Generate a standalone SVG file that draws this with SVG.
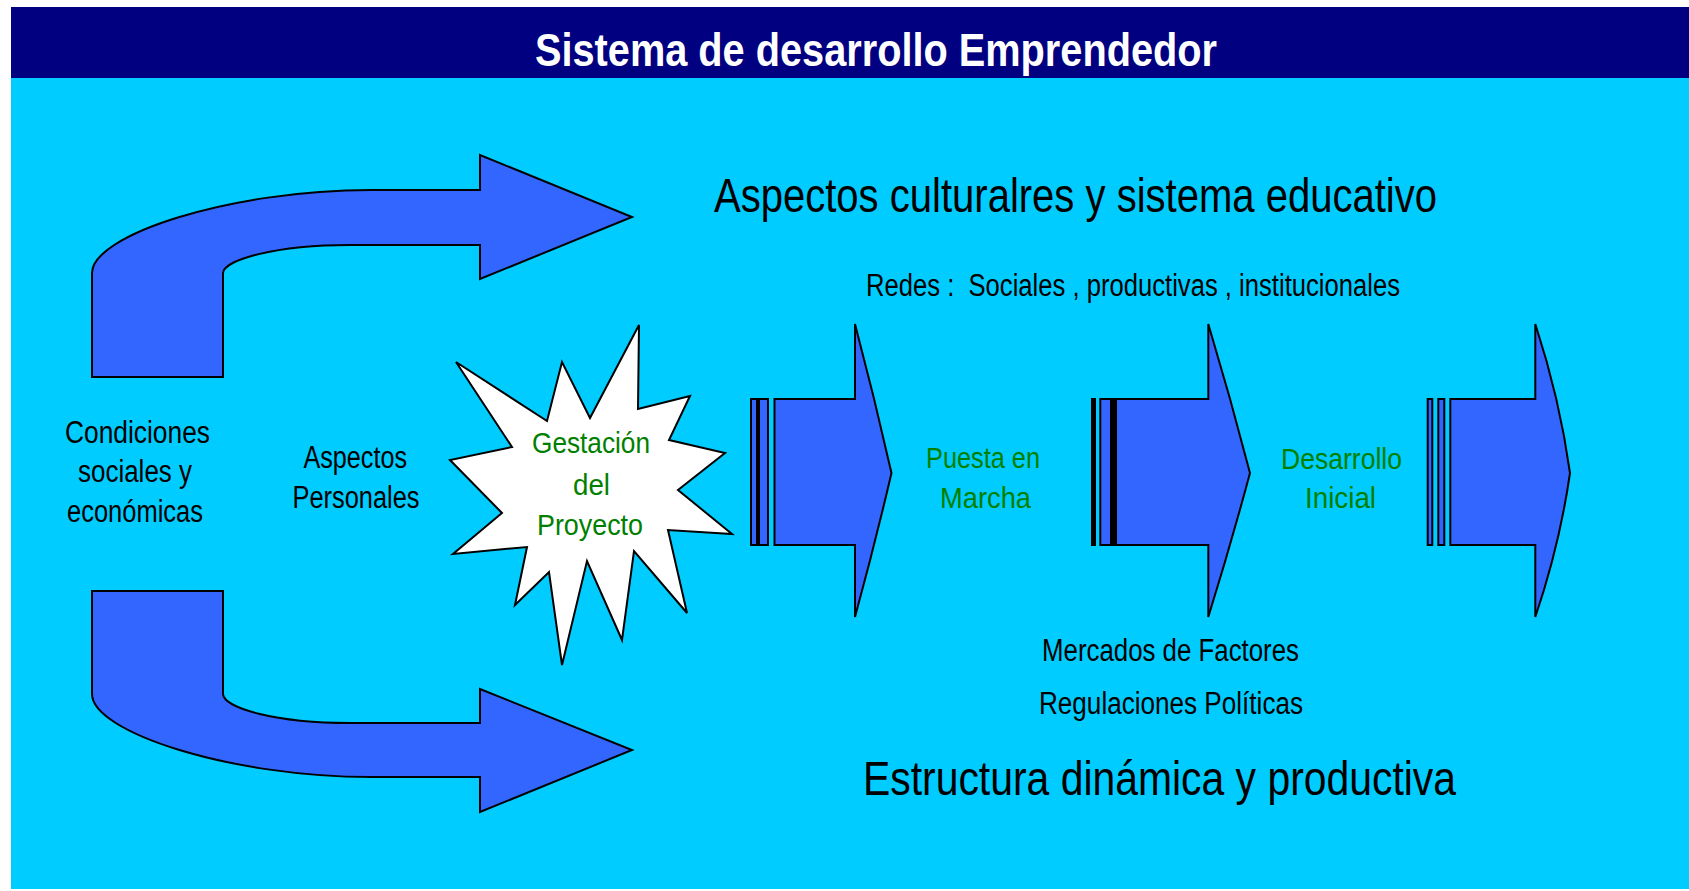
<svg xmlns="http://www.w3.org/2000/svg" width="1689" height="891" viewBox="0 0 1689 891">
<style>
.arrow{fill:#3366FF;stroke:#000;stroke-width:2;stroke-linejoin:miter}
.blk{fill:#000}
.t{font-family:"Liberation Sans",Arial,Helvetica,sans-serif;fill:#000}
.s{font-size:31px}
.L{font-size:48px}
.g{font-family:"Liberation Sans",Arial,Helvetica,sans-serif;fill:#008000;font-size:30px}
.title{font-family:"Liberation Sans",Arial,Helvetica,sans-serif;fill:#FFFFFF;font-size:46px;font-weight:bold}
</style>
<rect x="0" y="0" width="1689" height="891" fill="#FFFFFF"/>
<rect x="11" y="78" width="1678" height="811" fill="#00CCFF"/>
<g id="header">
<rect x="11" y="7" width="1678" height="71" fill="#000080"/>
<text class="title" x="535" y="66" textLength="682" lengthAdjust="spacingAndGlyphs">Sistema de desarrollo Emprendedor</text>
</g>
<g id="connectors">
<g id="bent-arrow-top">
<path class="arrow" d="M92,377 L92,273 C92,235 230,190 371,190 L480,190 L480,155 L632,217 L480,279 L480,245 L350,245 C275,245 224,260 223,273 L223,377 Z"/>
</g>
<g id="bent-arrow-bottom">
<path class="arrow" d="M92,591 L92,694 C92,732 230,777 371,777 L480,777 L480,812 L632,750 L480,689 L480,723 L350,723 C275,723 224,708 223,694 L223,591 Z"/>
</g>
<g id="stage-arrow-1">
<rect class="arrow" x="751" y="399" width="6" height="146"/>
<rect class="arrow" x="759" y="399" width="9" height="146"/>
<path class="arrow" d="M774.5,399 H855 V324 Q874.7,398.5 891.5,473 Q874.7,545 855,617 V545 H774.5 Z"/>
</g>
<g id="stage-arrow-2">
<rect class="blk" x="1091" y="398" width="5" height="148"/>
<rect class="arrow" x="1100.3" y="399" width="11" height="146"/>
<path class="arrow" d="M1112,399 H1208.3 V324 Q1230.7,398.5 1250,473 Q1230.7,545 1208.3,617 V545 H1112 Z"/>
<rect class="blk" x="1110" y="398" width="7" height="148"/>
</g>
<g id="stage-arrow-3">
<rect class="arrow" x="1427.7" y="399" width="4.6" height="146"/>
<rect class="arrow" x="1438.3" y="399" width="6" height="146"/>
<path class="arrow" d="M1450.3,399 H1535.3 V324 Q1559.7,398.5 1570,473 Q1559.7,545 1535.3,617 V545 H1450.3 Z"/>
</g>
</g>
<g id="star-gestacion">
<polygon fill="#FFFFFF" stroke="#000" stroke-width="2" points="639,325 638,409 690,396 669,440 725,453 678,490 732,534 668,530 687,613 634,551 622,640 587,561 562,665 549,572 515,605 527,547 453,554 502,513 450,460 512,447 456,362 547,421 562,362 590,418"/>
<text class="g" x="532" y="453" textLength="118" lengthAdjust="spacingAndGlyphs">Gestación</text>
<text class="g" x="573" y="495" textLength="37" lengthAdjust="spacingAndGlyphs">del</text>
<text class="g" x="537" y="535" textLength="106" lengthAdjust="spacingAndGlyphs">Proyecto</text>
</g>
<g id="label-condiciones">
<text class="t s" x="65" y="443" textLength="145" lengthAdjust="spacingAndGlyphs">Condiciones</text>
<text class="t s" x="78" y="482" textLength="114" lengthAdjust="spacingAndGlyphs">sociales y</text>
<text class="t s" x="67" y="522" textLength="136" lengthAdjust="spacingAndGlyphs">económicas</text>
</g>
<g id="label-aspectos-personales">
<text class="t s" x="303.5" y="468" textLength="103.5" lengthAdjust="spacingAndGlyphs">Aspectos</text>
<text class="t s" x="292.5" y="508" textLength="127" lengthAdjust="spacingAndGlyphs">Personales</text>
</g>
<g id="label-puesta">
<text class="g" x="926" y="468" textLength="114" lengthAdjust="spacingAndGlyphs">Puesta en</text>
<text class="g" x="940" y="508" textLength="91" lengthAdjust="spacingAndGlyphs">Marcha</text>
</g>
<g id="label-desarrollo">
<text class="g" x="1281" y="469" textLength="121" lengthAdjust="spacingAndGlyphs">Desarrollo</text>
<text class="g" x="1305" y="508" textLength="71" lengthAdjust="spacingAndGlyphs">Inicial</text>
</g>
<g id="label-aspectos-culturales">
<text class="t L" x="714" y="212" textLength="723" lengthAdjust="spacingAndGlyphs">Aspectos culturalres y sistema educativo</text>
</g>
<g id="label-redes">
<text class="t s" x="866" y="296" textLength="534" lengthAdjust="spacingAndGlyphs" xml:space="preserve">Redes :  Sociales , productivas , institucionales</text>
</g>
<g id="label-mercados">
<text class="t s" x="1042" y="661" textLength="257" lengthAdjust="spacingAndGlyphs">Mercados de Factores</text>
</g>
<g id="label-regulaciones">
<text class="t s" x="1039" y="714" textLength="264" lengthAdjust="spacingAndGlyphs">Regulaciones Políticas</text>
</g>
<g id="label-estructura">
<text class="t L" x="863" y="795" textLength="593" lengthAdjust="spacingAndGlyphs">Estructura dinámica y productiva</text>
</g>
</svg>
